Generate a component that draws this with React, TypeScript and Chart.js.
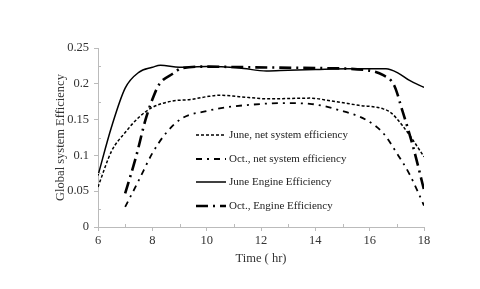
import React, { useEffect, useRef } from "react";
import { Chart, registerables } from "chart.js";

Chart.register(...registerables);

const juneNetX = [6, 6.5, 7, 7.5, 8, 8.75, 9.4, 10, 10.5, 11.2, 12.3, 13.8, 14.6, 15.6, 16.5, 16.8, 17.2, 17.6, 18];
const juneNetY = [0.056, 0.106, 0.132, 0.153, 0.167, 0.176, 0.178, 0.182, 0.184, 0.182, 0.179, 0.180, 0.176, 0.170, 0.165, 0.159, 0.142, 0.121, 0.098];

const octNetX = [7, 7.5, 8, 8.5, 9.1, 10, 10.7, 11.7, 12.8, 13.8, 14.9, 15.9, 16.5, 17, 17.45, 17.8, 18];
const octNetY = [0.028, 0.065, 0.103, 0.131, 0.152, 0.162, 0.167, 0.171, 0.173, 0.172, 0.163, 0.149, 0.131, 0.103, 0.075, 0.047, 0.030];

const juneEngX = [6, 6.5, 7, 7.5, 8, 8.3, 9, 10, 11.2, 12.2, 13, 14, 15.2, 16.6, 17.05, 17.45, 18];
const juneEngY = [0.072, 0.14, 0.194, 0.216, 0.223, 0.226, 0.223, 0.224, 0.222, 0.218, 0.219, 0.220, 0.221, 0.221, 0.215, 0.205, 0.195];

const octEngX = [7, 7.4, 7.75, 8, 8.25, 8.75, 9.1, 10, 11.7, 14, 15.9, 16.5, 16.9, 17.2, 17.6, 18];
const octEngY = [0.047, 0.098, 0.150, 0.178, 0.199, 0.214, 0.222, 0.224, 0.223, 0.222, 0.219, 0.212, 0.198, 0.163, 0.112, 0.052];

const seriesLabels = [
  "June, net system efficiency",
  "Oct., net system efficiency",
  "June Engine Efficiency",
  "Oct., Engine Efficiency",
];

const xTicks = [6, 8, 10, 12, 14, 16, 18];
const xMinorTicks = [7, 9, 11, 13, 15, 17];
const yTicks = [0, 0.05, 0.1, 0.15, 0.2, 0.25];
const yMinorTicks = [0.025, 0.075, 0.125, 0.175, 0.225];

const pts = (xs: number[], ys: number[]) => xs.map((x, i) => ({ x, y: ys[i] }));

const styles = [
  { dash: [3, 2], width: 1.5 },
  { dash: [6, 5, 2, 5], width: 1.8 },
  { dash: [], width: 1.5 },
  { dash: [12, 5, 2, 5], width: 2.6 },
];

const FONT = "'Liberation Serif', 'Times New Roman', serif";
const AXIS_COLOR = "#bbb";

const legendPlugin = {
  id: "insideLegend",
  afterDraw(chart: any) {
    const ctx = chart.ctx;
    const left = 196;
    const rows = [135, 159, 182, 206];
    ctx.save();
    ctx.font = `11px ${FONT}`;
    ctx.fillStyle = "#222";
    ctx.textBaseline = "middle";
    chart.data.datasets.forEach((ds: any, i: number) => {
      const y = rows[i];
      ctx.strokeStyle = "#000";
      ctx.lineWidth = styles[i].width;
      ctx.setLineDash(styles[i].dash);
      ctx.beginPath();
      ctx.moveTo(left, y);
      ctx.lineTo(left + 30, y);
      ctx.stroke();
      ctx.setLineDash([]);
      ctx.fillText(ds.label, left + 33, y + 0.5);
    });
    ctx.restore();
  },
};

const minorTickPlugin = {
  id: "minorTicks",
  afterDraw(chart: any) {
    const ctx = chart.ctx;
    const xs = chart.scales.x;
    const ys = chart.scales.y;
    const a = chart.chartArea;
    ctx.save();
    ctx.strokeStyle = AXIS_COLOR;
    ctx.lineWidth = 1;
    ctx.beginPath();
    xMinorTicks.forEach((v) => {
      const px = Math.round(xs.getPixelForValue(v)) + 0.5;
      ctx.moveTo(px, a.bottom);
      ctx.lineTo(px, a.bottom - 3);
    });
    yMinorTicks.forEach((v) => {
      const py = Math.round(ys.getPixelForValue(v)) + 0.5;
      ctx.moveTo(a.left, py);
      ctx.lineTo(a.left + 3, py);
    });
    ctx.stroke();
    ctx.restore();
  },
};

export default function App() {
  const ref = useRef<HTMLCanvasElement>(null);
  useEffect(() => {
    document.body.style.margin = "0";
    const series = [
      pts(juneNetX, juneNetY),
      pts(octNetX, octNetY),
      pts(juneEngX, juneEngY),
      pts(octEngX, octEngY),
    ];
    const chart = new Chart(ref.current!, {
      type: "line",
      data: {
        datasets: series.map((d, i) => ({
          label: seriesLabels[i],
          data: d,
          borderColor: "#000",
          borderWidth: styles[i].width,
          borderDash: styles[i].dash,
          pointRadius: 0,
          fill: false,
          cubicInterpolationMode: "monotone" as const,
        })),
      },
      options: {
        animation: false,
        responsive: false,
        maintainAspectRatio: false,
        layout: { padding: { left: 0, right: 56, top: 48, bottom: 0 } },
        plugins: { legend: { display: false }, tooltip: { enabled: false } },
        scales: {
          x: {
            type: "linear",
            min: 6,
            max: 18,
            afterFit: (s: any) => { s.height = 62; },
            afterBuildTicks: (s: any) => {
              s.ticks = xTicks.map((v) => ({ value: v }));
            },
            ticks: {
              autoSkip: false,
              maxRotation: 0,
              color: "#333",
              font: { family: FONT, size: 12.5 },
              padding: 2,
            },
            grid: { drawOnChartArea: false, tickLength: 4, color: AXIS_COLOR },
            border: { color: AXIS_COLOR },
            title: {
              display: true,
              text: "Time ( hr)",
              color: "#333",
              font: { family: FONT, size: 12.5 },
              padding: { top: 0, bottom: 22.5 },
            },
          },
          y: {
            type: "linear",
            min: 0,
            max: 0.25,
            afterFit: (s: any) => { s.width = 98; },
            afterBuildTicks: (s: any) => {
              s.ticks = yTicks.map((v) => ({ value: v }));
            },
            ticks: {
              color: "#333",
              font: { family: FONT, size: 12.5 },
              padding: 5,
              callback: (v: any) => String(Number(Number(v).toFixed(2))),
            },
            grid: { drawOnChartArea: false, tickLength: 4, color: AXIS_COLOR },
            border: { color: AXIS_COLOR },
            title: {
              display: true,
              text: "Global system Efficiency",
              color: "#333",
              font: { family: FONT, size: 12.5 },
              padding: { top: 53.5, bottom: 0 },
            },
          },
        },
      },
      plugins: [legendPlugin, minorTickPlugin],
    });
    return () => chart.destroy();
  }, []);
  return (
    <div style={{ width: 480, height: 289 }}>
      <canvas ref={ref} width={480} height={289} style={{ display: "block", width: 480, height: 289 }} />
    </div>
  );
}
